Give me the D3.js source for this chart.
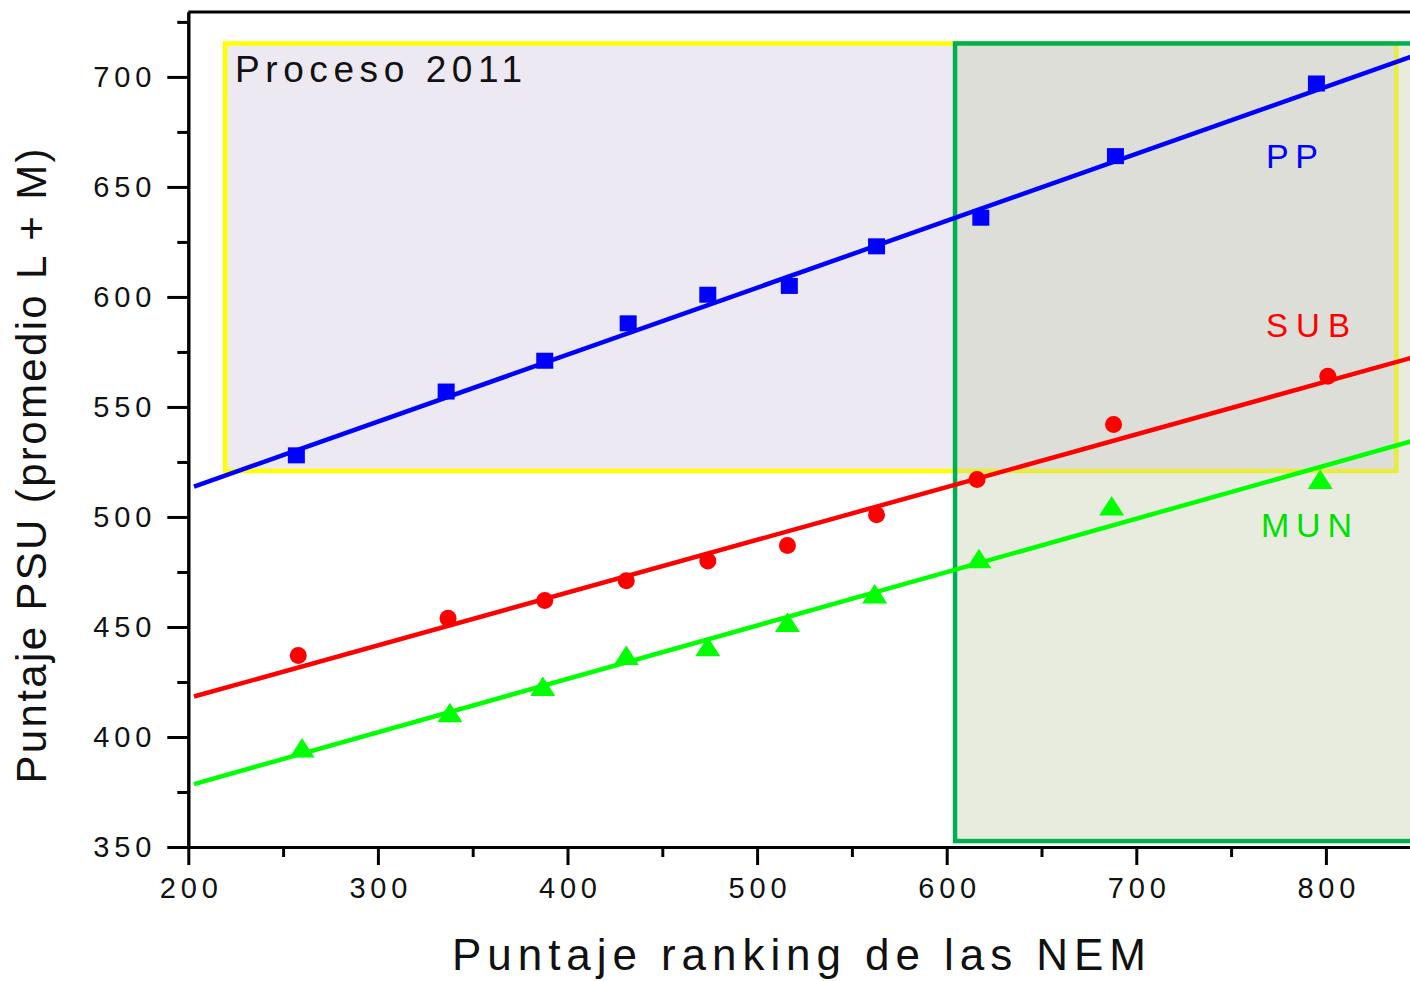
<!DOCTYPE html>
<html>
<head>
<meta charset="utf-8">
<script src="https://cdn.jsdelivr.net/npm/d3@7"></script>
<style>
    body { margin: 0; background: #fff; }
    svg { display: block; font-family: "Liberation Sans", Arial, sans-serif; }
</style>
</head>
<body>
<svg id="chart" width="1410" height="981"></svg>
<script>
// values
var ppX = [257, 336, 388, 432, 474, 517, 563, 618, 689, 795];
var ppY = [528, 557, 571, 588, 601, 605, 623, 636, 664, 697];
var subX = [258, 337, 388, 431, 474, 516, 563, 616, 688, 801];
var subY = [437, 454, 462, 471, 480, 487, 501, 517, 542, 564];
var munX = [260, 338, 387, 431, 474, 516, 562, 617, 687, 797];
var munY = [395, 411, 423, 437, 441, 452, 465, 481, 505, 517];

// linear fits (end points)
var fitX = [203, 850];
var ppFit = [513.8, 710.7];
var subFit = [418.4, 573.5];
var munFit = [378.6, 535.6];

// shaded regions [x0, x1, y0, y1]
var procesoBox = [219.4, 837.2, 715.2, 520.9];
var nemBox = [604.4, 870, 715.2, 352.7];

var xMajor = [200, 300, 400, 500, 600, 700, 800];
var xMinor = [250, 350, 450, 550, 650, 750];
var yMajor = [350, 400, 450, 500, 550, 600, 650, 700];
var yMinor = [375, 425, 475, 525, 575, 625, 675, 725];

var svg = d3.select("#chart");
var x = d3.scaleLinear().domain([200, 850]).range([188.3, 1420.7]);
var y = d3.scaleLinear().domain([350, 729.5]).range([847, 12]);

function box(b, fill, opacity, stroke) {
    svg.append("rect")
        .attr("x", x(b[0]))
        .attr("y", y(b[2]))
        .attr("width", x(b[1]) - x(b[0]))
        .attr("height", y(b[3]) - y(b[2]))
        .attr("fill", fill)
        .attr("fill-opacity", opacity)
        .attr("stroke", stroke)
        .attr("stroke-width", 4.5);
}
box(procesoBox, "#ece9f2", 1, "#ffff00");
box(nemBox, "#c1cca9", 0.37, "#00b050");

// axes
function styleAxis(g) {
    g.attr("font-family", null).attr("font-size", null);
    g.select(".domain").attr("stroke", "#000").attr("stroke-width", 3);
    g.selectAll(".tick line").attr("stroke", "#000").attr("stroke-width", 3);
    g.selectAll("text")
        .attr("fill", "#111")
        .style("font-family", "'Liberation Sans', Arial, sans-serif")
        .style("font-size", "29px")
        .attr("textLength", 58)
        .attr("lengthAdjust", "spacing");
}

svg.append("g")
    .attr("transform", "translate(0,847)")
    .call(d3.axisBottom(x).tickValues(xMinor).tickSize(10).tickSizeOuter(0).tickFormat(""))
    .call(styleAxis);
svg.append("g")
    .attr("transform", "translate(0,847)")
    .call(d3.axisBottom(x).tickValues(xMajor).tickSize(18).tickPadding(12).tickSizeOuter(0))
    .call(styleAxis);

svg.append("g")
    .attr("transform", "translate(188.3,0)")
    .call(d3.axisLeft(y).tickValues(yMinor).tickSize(11).tickSizeOuter(0).tickFormat(""))
    .call(styleAxis);
svg.append("g")
    .attr("transform", "translate(188.3,0)")
    .call(d3.axisLeft(y).tickValues(yMajor).tickSize(21).tickPadding(16).tickSizeOuter(0))
    .call(styleAxis);

// top frame line
svg.append("line")
    .attr("x1", x(200)).attr("x2", x(850))
    .attr("y1", y(729.5)).attr("y2", y(729.5))
    .attr("stroke", "#000").attr("stroke-width", 3);

// fits
var line = d3.line().x(d => x(d[0])).y(d => y(d[1]));
[[ppFit, "#0000ff"], [subFit, "#ff0000"], [munFit, "#00ff00"]].forEach(function (s) {
    svg.append("path")
        .datum(d3.zip(fitX, s[0]))
        .attr("d", line)
        .attr("fill", "none")
        .attr("stroke", s[1])
        .attr("stroke-width", 4.5);
});

// markers
svg.append("g").selectAll("rect")
    .data(d3.zip(ppX, ppY))
    .enter().append("rect")
    .attr("x", d => x(d[0]) - 8.5)
    .attr("y", d => y(d[1]) - 8)
    .attr("width", 17)
    .attr("height", 16)
    .attr("fill", "#0000ff");

svg.append("g").selectAll("circle")
    .data(d3.zip(subX, subY))
    .enter().append("circle")
    .attr("cx", d => x(d[0]))
    .attr("cy", d => y(d[1]))
    .attr("r", 8.5)
    .attr("fill", "#ff0000");

svg.append("g").selectAll("path")
    .data(d3.zip(munX, munY))
    .enter().append("path")
    .attr("d", "M0,-10L12.5,9.5L-12.5,9.5Z")
    .attr("transform", d => "translate(" + x(d[0]) + "," + y(d[1]) + ")")
    .attr("fill", "#00ff00");

// texts
function label(t, px, py, size, len, color, anchor) {
    return svg.append("text")
        .attr("x", px)
        .attr("y", py)
        .attr("text-anchor", anchor || "start")
        .attr("textLength", len)
        .attr("lengthAdjust", "spacing")
        .style("font-size", size + "px")
        .attr("fill", color)
        .text(t);
}
label("Proceso 2011", 235, 82, 37, 287, "#111");
label("PP", 1266, 168, 34, 52, "#0000ff");
label("SUB", 1266, 337, 33, 84, "#ff0000");
label("MUN", 1261, 537, 34, 91, "#00e000");
label("Puntaje ranking de las NEM", 799, 970, 44, 694, "#111", "middle");
label("Puntaje PSU (promedio L + M)", 0, 0, 42, 635, "#111", "middle")
    .attr("transform", "translate(46,466) rotate(-90)");
</script>
</body>
</html>
